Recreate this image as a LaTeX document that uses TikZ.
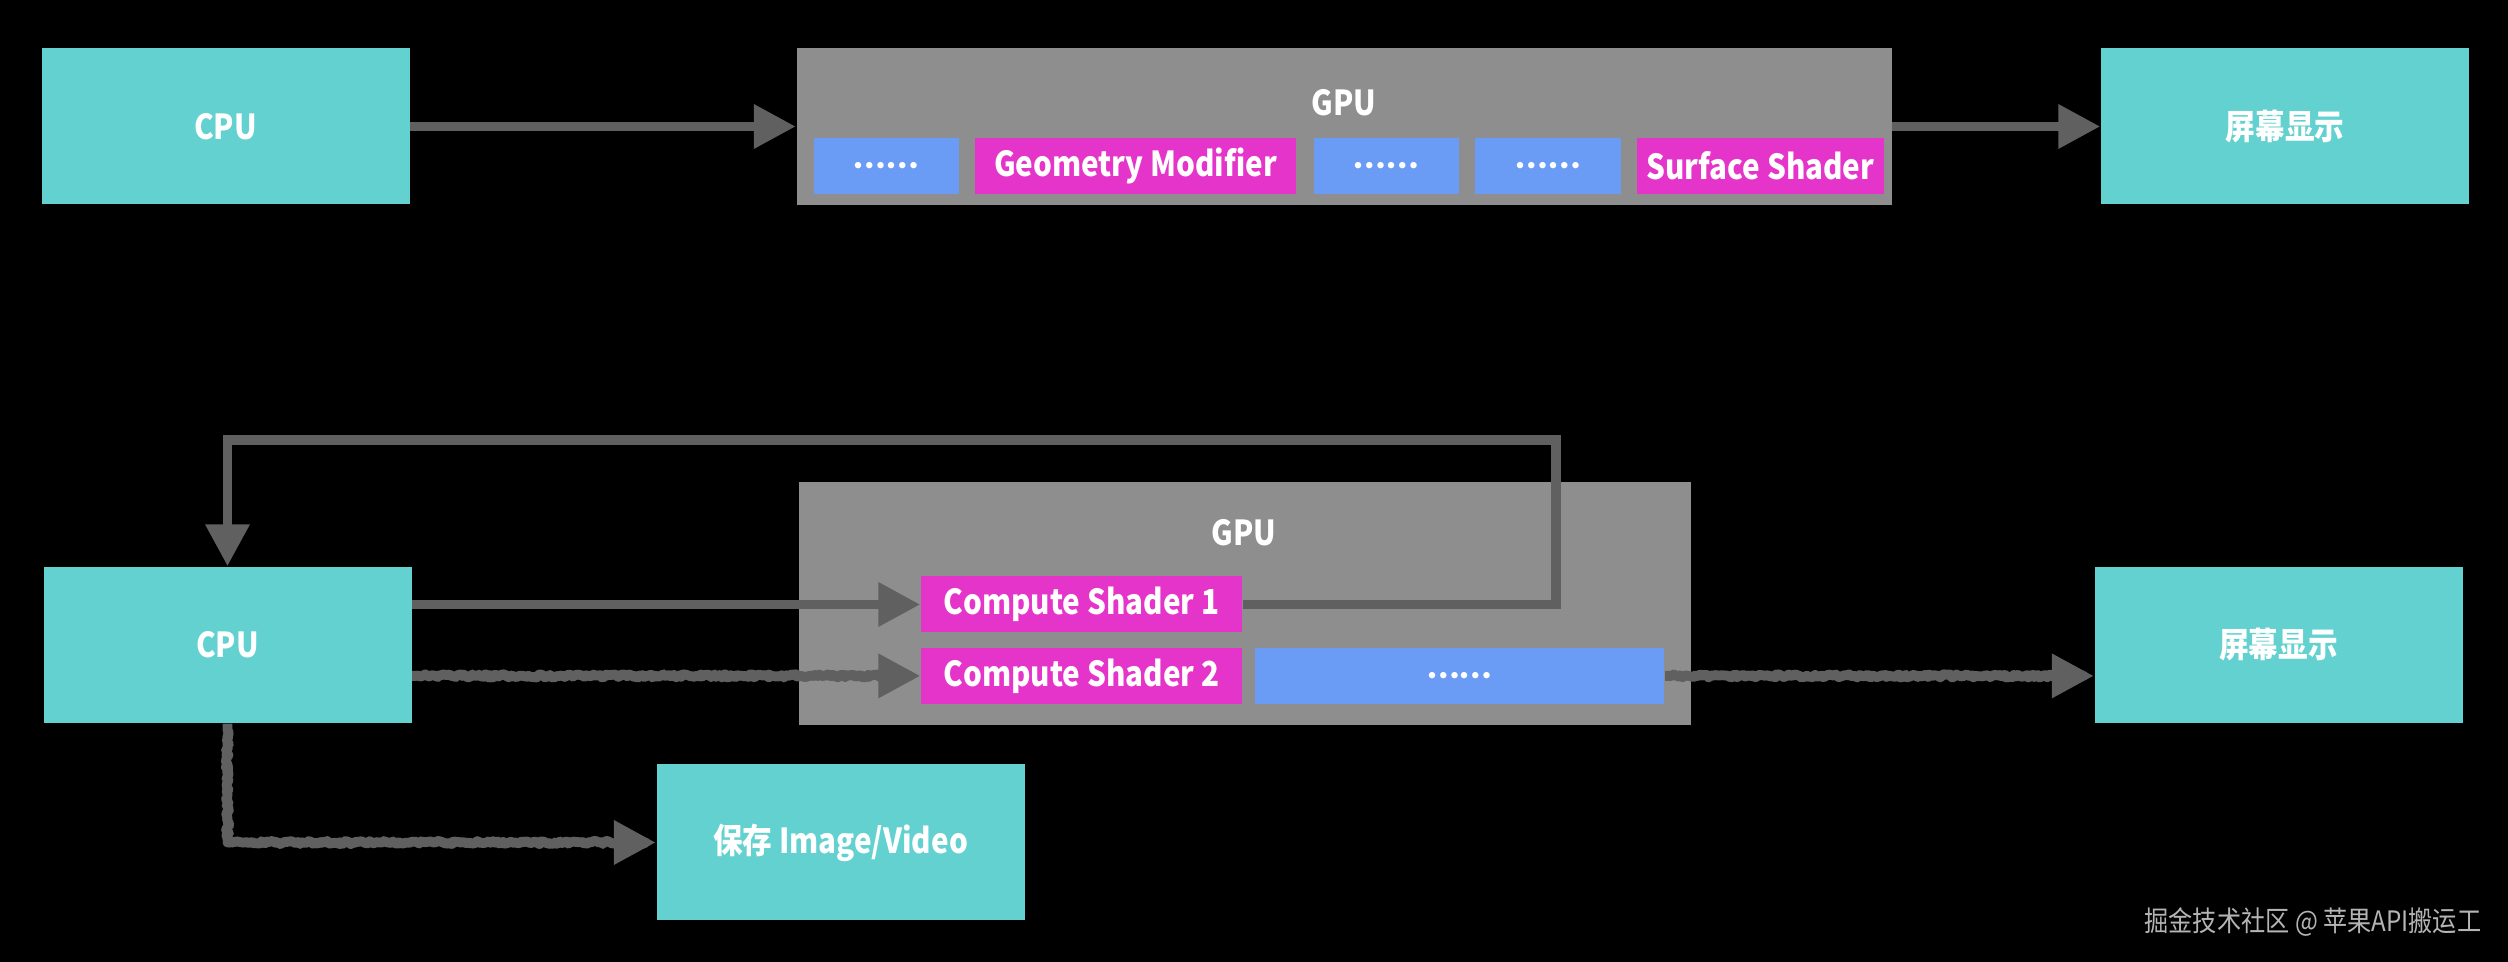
\documentclass[tikz,border=0pt]{standalone}
\usepackage{fontspec}
\setmainfont{Noto Sans CJK SC}[FakeStretch=0.86]
\newfontfamily\dotsfont{Lato}
\usetikzlibrary{arrows.meta}
\usetikzlibrary{positioning}
\usetikzlibrary{decorations.pathmorphing}
\usepackage{xcolor}
\definecolor{boxteal}{HTML}{62D1CF}
\definecolor{gpugray}{HTML}{8E8E8E}
\definecolor{stageblue}{HTML}{6A9CF6}
\definecolor{stagepink}{HTML}{E534C9}
\definecolor{arrowgray}{HTML}{606060}
\definecolor{markgray}{HTML}{B4B4B4}

\begin{document}
\begin{tikzpicture}[
 box/.style={fill=boxteal, text=white, font=\fontsize{9.8}{11}\selectfont\bfseries, minimum width=3.68cm, minimum height=1.56cm, inner sep=0},
 gpubox/.style={fill=gpugray, inner sep=0},
 title/.style={text=white, font=\fontsize{9.8}{11}\selectfont\bfseries, inner sep=0},
 stage/.style={text=white, font=\fontsize{9.8}{11}\selectfont\bfseries, minimum height=0.56cm, inner sep=0},
 flow/.style={arrowgray, line width=2.8pt, -{Triangle[length=0.42cm,width=0.42cm]}},
 rough/.style={flow, line join=round, decorate, decoration={random steps, segment length=0.6pt, amplitude=0.45pt, pre length=1pt, post length=3pt}}
]
\pgfmathsetseed{7}
\fill[black] (0,0) rectangle (25.08,-9.62);
\useasboundingbox (0,0) rectangle (25.08,-9.62);

\node[box] (cpuA) at (2.255,-1.265) {CPU};
\node[gpubox, minimum width=10.95cm, minimum height=1.57cm] (gpuA) at (13.44,-1.265) {};
\node[title] (gpuAtitle) at (13.44,-1.03) {GPU};
\node[box] (scrA) at (22.85,-1.265) {屏幕显示};
\foreach \i/\x/\w/\c/\t in {1/8.865/1.45/stageblue/{\dotsfont\fontsize{12}{12}\selectfont ……}, 2/11.355/3.21/stagepink/Geometry Modifier, 3/13.865/1.45/stageblue/{\dotsfont\fontsize{12}{12}\selectfont ……}, 4/15.48/1.46/stageblue/{\dotsfont\fontsize{12}{12}\selectfont ……}, 5/17.605/2.47/stagepink/Surface Shader} {
 \node[stage, fill=\c, minimum width=\w cm] (stageA\i) at (\x,-1.66) {\t};
}
\draw[flow] (cpuA.east) -- (gpuA.west);
\draw[flow] (gpuA.east) -- (scrA.west);

\node[box] (cpuB) at (2.275,-6.45) {CPU};
\node[gpubox, minimum width=8.92cm, minimum height=2.43cm] (gpuB) at (12.45,-6.035) {};
\node[title] (gpuBtitle) at (12.44,-5.33) {GPU};
\node[stage, fill=stagepink, minimum width=3.21cm] (csOne) at (10.815,-6.045) {Compute Shader 1};
\node[stage, fill=stagepink, minimum width=3.21cm, below=0.14 of csOne] (csTwo) {Compute Shader 2};
\node[stage, fill=stageblue, minimum width=4.09cm, right=0.12 of csTwo] (dotsB) {\dotsfont\fontsize{12}{12}\selectfont ……};
\node[box] (scrB) at (22.785,-6.45) {屏幕显示};
\node[box] (save) at (8.405,-8.425) {保存 Image/Video};
\coordinate (loopturn) at (15.56,-4.40);

\draw[flow] (cpuB.east |- csOne.west) -- (csOne.west);
\draw[flow] (csOne.east) -| (loopturn) -| (cpuB.north);
\draw[rough] (cpuB.east |- csTwo.west) -- (csTwo.west);
\draw[rough] (dotsB.east) -- (dotsB.east -| scrB.west);
\draw[rough] (cpuB.south) |- (save.west);

\node[anchor=east, text=markgray, font=\fontsize{8}{9}\selectfont, inner sep=0] (mark) at (24.82,-9.22) {掘金技术社区 @ 苹果API搬运工};
\end{tikzpicture}
\end{document}
